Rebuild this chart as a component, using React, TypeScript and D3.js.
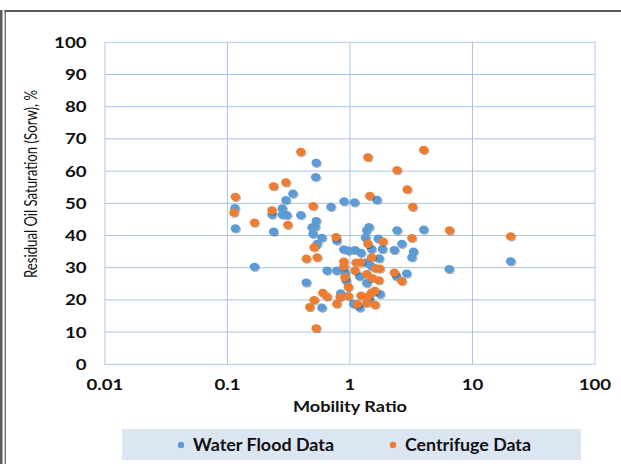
import React, { useEffect, useRef } from "react";
import * as d3 from "d3";

const W = 621;
const H = 464;

// [mobility ratio, residual oil saturation %]
const waterFlood: [number, number][] = [
  [0.115, 48.5], [0.116, 42.2], [0.166, 30.3], [0.231, 46.5], [0.238, 41.2],
  [0.28, 48.4], [0.28, 46.5], [0.305, 46.3], [0.3, 51.0], [0.342, 53.0],
  [0.397, 46.3], [0.53, 62.6], [0.525, 58.1], [0.53, 44.5], [0.49, 42.5],
  [0.52, 42.8], [0.5, 40.5], [0.59, 39.3], [0.7, 48.9], [0.895, 50.6],
  [1.09, 50.3], [0.78, 38.4], [0.54, 37.4], [0.44, 25.4], [0.59, 17.6],
  [0.84, 22.0], [0.93, 26.0], [0.65, 29.1], [0.78, 29.1], [0.89, 35.7],
  [0.97, 35.3], [0.91, 28.5], [1.1, 35.5], [1.23, 34.6], [1.2, 27.3],
  [1.07, 18.8], [1.2, 17.6], [1.76, 21.8], [1.37, 25.2], [1.5, 30.4],
  [1.73, 32.9], [1.37, 41.6], [1.43, 42.6], [1.34, 39.3], [1.5, 35.8],
  [1.7, 39.0], [1.84, 35.8], [1.66, 51.1], [2.42, 41.6], [4.0, 41.8],
  [2.65, 37.4], [2.3, 35.5], [3.3, 35.0], [3.2, 33.2], [2.4, 27.3],
  [2.9, 28.2], [6.46, 29.6], [20.5, 32.0], [1.37, 31.7], [1.45, 20.0],
];

const centrifuge: [number, number][] = [
  [0.116, 52.0], [0.113, 47.1], [0.166, 44.0], [0.238, 55.3], [0.231, 47.8],
  [0.3, 56.5], [0.311, 43.3], [0.397, 66.0], [0.5, 49.1], [0.77, 39.5],
  [0.51, 36.3], [0.44, 32.8], [0.54, 33.2], [0.51, 19.9], [0.47, 17.8],
  [0.6, 22.2], [0.65, 21.0], [0.53, 11.2], [0.78, 18.8], [0.83, 20.9],
  [0.97, 21.2], [0.97, 24.0], [0.91, 27.0], [0.89, 31.9], [0.89, 30.4],
  [1.1, 29.1], [1.12, 31.6], [1.22, 31.7], [1.23, 21.3], [1.15, 18.7],
  [1.37, 19.1], [1.4, 21.0], [1.6, 22.8], [1.5, 22.3], [1.6, 18.5],
  [1.37, 28.0], [1.52, 26.8], [1.72, 26.1], [1.63, 29.8], [1.75, 29.7],
  [1.5, 33.2], [1.4, 37.4], [1.86, 38.1], [1.45, 52.3], [1.4, 64.3],
  [2.42, 60.3], [2.93, 54.3], [3.25, 48.9], [4.0, 66.6], [3.2, 39.2],
  [2.3, 28.5], [2.65, 25.8], [6.5, 41.6], [20.5, 39.7],
];

const xTicks = [0.01, 0.1, 1, 10, 100];
const xTickLabels = ["0.01", "0.1", "1", "10", "100"];
const yTicks = [0, 10, 20, 30, 40, 50, 60, 70, 80, 90, 100];
const seriesNames = ["Water Flood Data", "Centrifuge Data"];
const seriesColors = ["#5B9BD5", "#ED7D31"];
const xTitle = "Mobility Ratio";
const yTitle = "Residual Oil Saturation (Sorw), %";

const FONT = "Lato, 'Open Sans', sans-serif";
const STRETCH = 1.2;

export default function App() {
  const ref = useRef<SVGSVGElement>(null);

  useEffect(() => {
    const svg = d3.select(ref.current!);
    svg.selectAll("*").remove();

    const x = d3.scaleLog().domain([0.01, 100]).range([104.9, 595]);
    const y = d3.scaleLinear().domain([0, 100]).range([364.3, 42.3]);

    // widen text horizontally to the chart's wide lettering
    const stretch = (sel: d3.Selection<SVGTextElement, any, any, any>, target?: number) => {
      sel.each(function () {
        const w = this.getComputedTextLength();
        const t = target ?? w * STRETCH;
        d3.select(this).attr("textLength", t).attr("lengthAdjust", "spacingAndGlyphs");
      });
    };

    const defs = svg.append("defs");
    const f = defs.append("filter").attr("id", "mshadow").attr("x", "-50%").attr("y", "-50%")
      .attr("width", "200%").attr("height", "200%");
    f.append("feDropShadow").attr("dx", 0.8).attr("dy", 1).attr("stdDeviation", 0.7)
      .attr("flood-color", "#000").attr("flood-opacity", 0.35);

    // outer border
    svg.append("rect").attr("x", 0).attr("y", 10).attr("width", 2.5).attr("height", H - 10).attr("fill", "#5a5a5a");
    svg.append("rect").attr("x", 4.5).attr("y", 10).attr("width", 1.5).attr("height", H - 10).attr("fill", "#7a7a7a");
    svg.append("rect").attr("x", 4.5).attr("y", 10).attr("width", W - 4.5).attr("height", 2).attr("fill", "#5a5a5a");

    // gridlines
    const grid = svg.append("g").attr("stroke", "#a9c3e4").attr("stroke-width", 1).attr("fill", "none");
    grid.selectAll("line.h").data(yTicks.slice(1, -1)).join("line")
      .attr("x1", x(0.01)).attr("x2", x(100)).attr("y1", (d) => y(d)).attr("y2", (d) => y(d));
    grid.selectAll("line.v").data(xTicks.slice(1, -1)).join("line")
      .attr("x1", (d) => x(d)).attr("x2", (d) => x(d)).attr("y1", y(0)).attr("y2", y(100));
    svg.append("rect").attr("x", x(0.01)).attr("y", y(100))
      .attr("width", x(100) - x(0.01)).attr("height", y(0) - y(100))
      .attr("fill", "none").attr("stroke", "#b4cbe8").attr("stroke-width", 1);

    // y tick labels
    const yl = svg.append("g").attr("font-family", FONT).attr("font-weight", 700)
      .attr("font-size", 15.5).attr("fill", "#111").attr("text-anchor", "end");
    const ylt = yl.selectAll("text").data(yTicks).join("text")
      .attr("x", 86.5).attr("y", (d) => y(d) + 5.4).text((d) => String(d));
    stretch(ylt as any);

    // x tick labels
    const xl = svg.append("g").attr("font-family", FONT).attr("font-weight", 700)
      .attr("font-size", 15.5).attr("fill", "#111").attr("text-anchor", "middle");
    const xlt = xl.selectAll("text").data(xTicks).join("text")
      .attr("x", (d) => x(d)).attr("y", 390).text((d, i) => xTickLabels[i]);
    stretch(xlt as any);

    // axis titles
    const xt = svg.append("text").attr("x", x(1)).attr("y", 411.5).attr("text-anchor", "middle")
      .attr("font-family", FONT).attr("font-weight", 700).attr("font-size", 15.5).attr("fill", "#111")
      .text(xTitle);
    stretch(xt as any, 114);

    const yt = svg.append("text").attr("transform", "translate(37,184) rotate(-90)")
      .attr("text-anchor", "middle").attr("font-family", FONT).attr("font-size", 17)
      .attr("fill", "#111").text(yTitle);
    stretch(yt as any, 188);

    // markers
    const series = [waterFlood, centrifuge];
    series.forEach((data, i) => {
      svg.append("g").attr("filter", "url(#mshadow)").selectAll("ellipse").data(data).join("ellipse")
        .attr("cx", (d) => x(d[0])).attr("cy", (d) => y(d[1]))
        .attr("rx", 4.7).attr("ry", 4.1).attr("fill", seriesColors[i]);
    });

    // legend
    const lg = svg.append("g");
    lg.append("rect").attr("x", 122).attr("y", 429).attr("width", 459).attr("height", 31).attr("fill", "#dce6f2");
    const legendX = [181, 393];
    const legendW = [141, 126];
    seriesNames.forEach((name, i) => {
      lg.append("circle").attr("cx", legendX[i]).attr("cy", 445).attr("r", 3.2).attr("fill", seriesColors[i]);
      const t = lg.append("text").attr("x", legendX[i] + 12).attr("y", 450.5)
        .attr("font-family", FONT).attr("font-weight", 700).attr("font-size", 16.5).attr("fill", "#111")
        .text(name);
      stretch(t as any, legendW[i]);
    });
  }, []);

  return (
    <div style={{ position: "absolute", left: 0, top: 0 }}>
      <svg ref={ref} width={W} height={H} style={{ display: "block", background: "#fff" }} />
    </div>
  );
}
